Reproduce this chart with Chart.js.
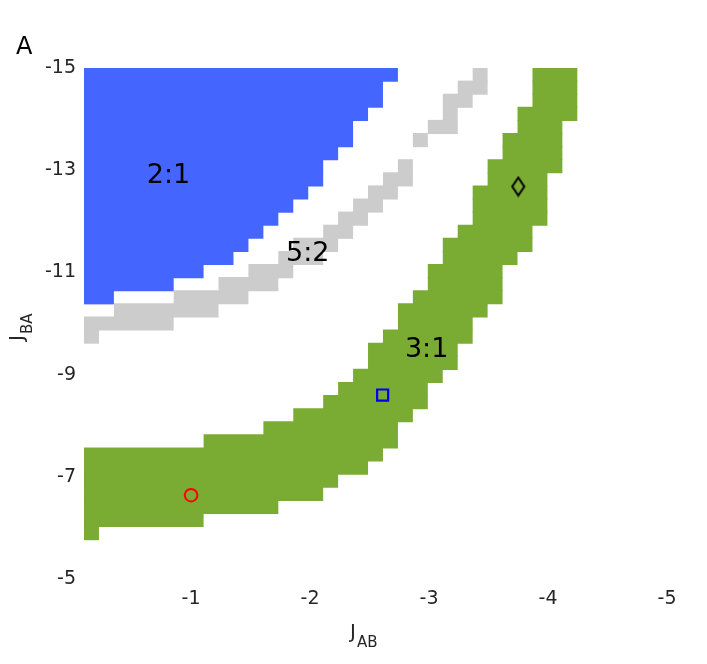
<!DOCTYPE html>
<html>
<head>
<meta charset="utf-8">
<script src="https://cdn.jsdelivr.net/npm/chart.js@4/dist/chart.umd.min.js"></script>
<style>
  html, body { margin: 0; padding: 0; background: #fff; }
  #wrap { width: 707px; height: 664px; }
</style>
</head>
<body>
<div id="wrap"><canvas id="phase" width="707" height="664"></canvas></div>
<script>
// Grid: 40 x 40 points -> 39 x 39 cells, J_AB from -0.1 to -5, J_BA from -15 to -5
const jabFirst = -0.1, jabLast = -5;
const jbaFirst = -15, jbaLast = -5;
const nCells = 39;

// 2:1 region (blue): rows 0..17 from column 0 up to blueEnd
const blueEnd = [21, 20, 20, 19, 18, 18, 17, 16, 16, 15, 14, 13, 12, 11, 10, 8, 6, 2];

// 5:2 region (gray)
const grayRows  = [0, 1, 2, 3, 4, 5, 7, 8, 9, 10, 11, 12, 13, 14, 15, 16, 17, 18, 19, 20];
const grayStart = [26, 25, 24, 24, 23, 22, 21, 20, 19, 18, 17, 16, 14, 13, 11, 9, 6, 2, 0, 0];
const grayEnd   = [27, 27, 26, 25, 25, 23, 22, 22, 21, 20, 19, 18, 17, 16, 14, 13, 11, 9, 6, 1];

// 3:1 region (green): rows 0..35
const greenStart = [30, 30, 30, 29, 29, 28, 28, 27, 27, 26, 26, 26, 25, 24, 24, 23, 23, 22,
                    21, 21, 20, 19, 19, 18, 17, 16, 14, 12, 8, 0, 0, 0, 0, 0, 0, 0];
const greenEnd   = [33, 33, 33, 33, 32, 32, 32, 32, 31, 31, 31, 31, 30, 30, 29, 28, 28, 28,
                    27, 26, 26, 25, 25, 24, 23, 23, 22, 21, 21, 20, 19, 17, 16, 13, 8, 1];

// labels and markers
const regionLabels = ['2:1', '5:2', '3:1'];
const labelJab = [-0.81, -1.98, -2.98];
const labelJba = [-12.89, -11.36, -9.48];

const circleJab = [-1.0],  circleJba = [-6.64];
const squareJab = [-2.61], squareJba = [-8.6];
const diamondJab = [-3.75], diamondJba = [-12.68];

const xTicks = [-1, -2, -3, -4, -5];
const yTicks = [-15, -13, -11, -9, -7, -5];

// cell index -> axis value
const colEdge = c => jabFirst + c * (jabLast - jabFirst) / nCells;
const rowMid = r => jbaFirst + (r + 0.5) * (jbaLast - jbaFirst) / nCells;

const blueBars = blueEnd.map((e, r) => ({ y: rowMid(r), x: [colEdge(0), colEdge(e)] }));
const grayBars = grayRows.map((r, i) => ({ y: rowMid(r), x: [colEdge(grayStart[i]), colEdge(grayEnd[i])] }));
const greenBars = greenStart.map((s, r) => ({ y: rowMid(r), x: [colEdge(s), colEdge(greenEnd[r])] }));

// tall diamond marker
const diamond = document.createElement('canvas');
diamond.width = 16; diamond.height = 22;
(function () {
    const c = diamond.getContext('2d');
    c.strokeStyle = '#000';
    c.lineWidth = 2;
    c.beginPath();
    c.moveTo(8, 2); c.lineTo(14, 11); c.lineTo(8, 20); c.lineTo(2, 11); c.closePath();
    c.stroke();
})();

const barBase = {
    type: 'bar', indexAxis: 'y', grouped: false,
    categoryPercentage: 1, barPercentage: 1.08,
    borderWidth: 0, order: 2
};

const textPlugin = {
    id: 'texts',
    afterDatasetsDraw(chart) {
        const ctx = chart.ctx;
        const xs = chart.scales.x, ys = chart.scales.y;
        ctx.save();
        ctx.fillStyle = '#000';
        ctx.font = '27px "DejaVu Sans"';
        ctx.textAlign = 'center';
        ctx.textBaseline = 'middle';
        regionLabels.forEach((t, i) => {
            ctx.fillText(t, xs.getPixelForValue(labelJab[i]), ys.getPixelForValue(labelJba[i]));
        });
        ctx.restore();
    },
    afterDraw(chart) {
        const ctx = chart.ctx;
        ctx.save();
        ctx.fillStyle = '#000';
        ctx.textBaseline = 'alphabetic';
        ctx.textAlign = 'left';
        // panel letter
        ctx.font = '24px "DejaVu Sans"';
        ctx.fillText('A', 16, 54);
        // x title J_AB
        ctx.fillStyle = '#262626';
        ctx.font = '20px "DejaVu Sans"';
        ctx.fillText('J', 350, 638);
        ctx.font = '15px "DejaVu Sans"';
        ctx.fillText('AB', 357, 647);
        // y title J_BA (rotated)
        ctx.translate(23, 341);
        ctx.rotate(-Math.PI / 2);
        ctx.font = '20px "DejaVu Sans"';
        ctx.fillText('J', 0, 0);
        ctx.font = '15px "DejaVu Sans"';
        ctx.fillText('BA', 7, 9);
        ctx.restore();
    }
};

new Chart(document.getElementById('phase'), {
    data: {
        datasets: [
            Object.assign({ label: '2:1', data: blueBars, backgroundColor: '#4466ff' }, barBase),
            Object.assign({ label: '5:2', data: grayBars, backgroundColor: '#cccccc' }, barBase),
            Object.assign({ label: '3:1', data: greenBars, backgroundColor: '#7aab33' }, barBase),
            {
                type: 'scatter', label: 'circle', order: 0,
                data: circleJab.map((x, i) => ({ x: x, y: circleJba[i] })),
                pointStyle: 'circle', pointRadius: 6.3, borderWidth: 2,
                borderColor: '#ff0000', backgroundColor: 'rgba(0,0,0,0)'
            },
            {
                type: 'scatter', label: 'square', order: 0,
                data: squareJab.map((x, i) => ({ x: x, y: squareJba[i] })),
                pointStyle: 'rect', pointRadius: 7.8, borderWidth: 2.2,
                borderColor: '#0000f0', backgroundColor: 'rgba(0,0,0,0)'
            },
            {
                type: 'scatter', label: 'diamond', order: 0,
                data: diamondJab.map((x, i) => ({ x: x, y: diamondJba[i] })),
                pointStyle: diamond, pointRadius: 8
            }
        ]
    },
    options: {
        responsive: false,
        animation: false,
        events: [],
        layout: { padding: { top: 68, right: 40, bottom: 0, left: 0 } },
        plugins: { legend: { display: false }, tooltip: { enabled: false } },
        scales: {
            x: {
                type: 'linear', min: jabLast, max: jabFirst, reverse: true, offset: false,
                grid: { display: false, drawTicks: false }, border: { display: false },
                afterBuildTicks: s => { s.ticks = xTicks.map(v => ({ value: v })); },
                afterFit: s => { s.height = 85; },
                ticks: { color: '#262626', padding: 9, font: { family: 'DejaVu Sans', size: 19 } }
            },
            y: {
                type: 'linear', min: jbaFirst, max: jbaLast, reverse: true, offset: false,
                grid: { display: false, drawTicks: false }, border: { display: false },
                afterBuildTicks: s => { s.ticks = yTicks.map(v => ({ value: v })); },
                afterFit: s => { s.width = 84; },
                ticks: { color: '#262626', padding: 8, font: { family: 'DejaVu Sans', size: 19 } }
            }
        }
    },
    plugins: [textPlugin]
});
</script>
</body>
</html>
